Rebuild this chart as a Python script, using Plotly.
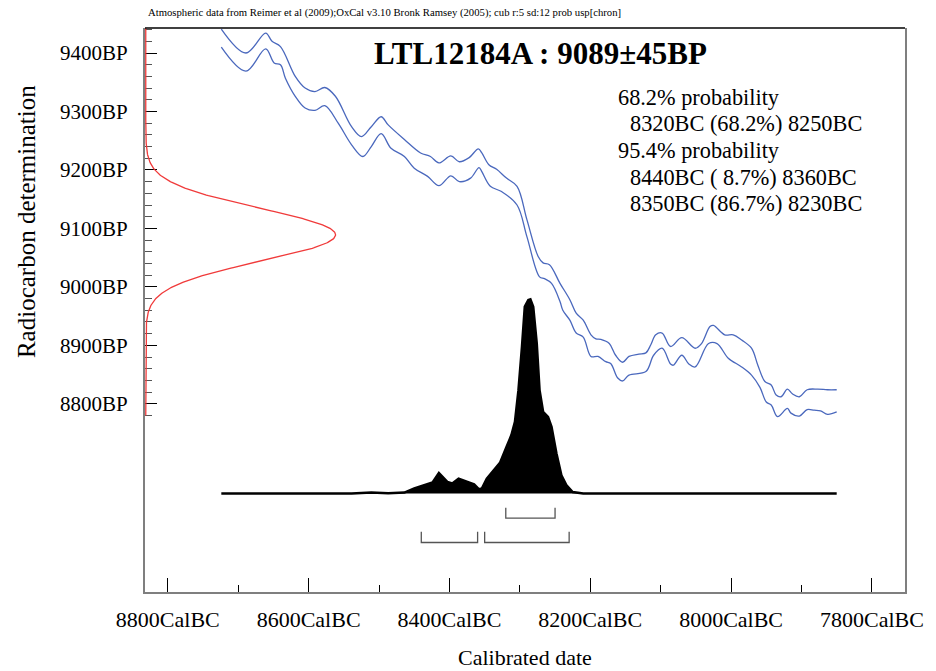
import numpy as np
import plotly.graph_objects as go

# ---- measurement -------------------------------------------------------
LAB_CODE = "LTL12184A"
C14_MEAN = 9089   # BP
C14_SD = 45       # BP
NOTE = ("Atmospheric data from Reimer et al (2009);OxCal v3.10 Bronk Ramsey (2005); "
        "cub r:5 sd:12 prob usp[chron]")

# ---- calibration curve envelope (CalBC, BP) ----------------------------
curve_upper_x = [8724, 8689, 8661, 8652, 8640, 8619, 8605, 8591, 8577, 8562,
                 8539, 8525, 8511, 8497, 8487, 8464, 8441, 8427, 8415, 8398,
                 8386, 8372, 8359, 8354, 8344, 8333, 8319, 8304, 8290, 8274,
                 8267, 8258, 8243, 8229, 8220, 8210, 8199, 8192, 8185, 8173,
                 8164, 8154, 8145, 8131, 8121, 8114, 8107, 8098, 8086, 8070,
                 8051, 8042, 8030, 8025, 8009, 7997, 7985, 7971, 7962, 7952,
                 7943, 7936, 7929, 7920, 7913, 7903, 7892, 7877, 7863, 7850]
curve_upper_bp = [9441, 9400, 9434, 9420, 9411, 9360, 9340, 9334, 9341, 9326,
                  9274, 9257, 9274, 9291, 9277, 9252, 9229, 9223, 9212, 9224,
                  9214, 9221, 9236, 9229, 9209, 9201, 9186, 9172, 9115, 9052,
                  9041, 9038, 9006, 8978, 8955, 8943, 8918, 8911, 8910, 8903,
                  8883, 8871, 8881, 8885, 8887, 8901, 8918, 8921, 8898, 8913,
                  8895, 8903, 8932, 8934, 8918, 8918, 8909, 8895, 8866, 8838,
                  8832, 8815, 8812, 8825, 8817, 8812, 8824, 8825, 8824, 8824]

curve_lower_x = [8724, 8689, 8661, 8649, 8640, 8633, 8619, 8605, 8591, 8577,
                 8558, 8539, 8523, 8511, 8497, 8483, 8464, 8450, 8431, 8415,
                 8398, 8386, 8370, 8358, 8354, 8342, 8326, 8304, 8290, 8272,
                 8265, 8255, 8243, 8239, 8229, 8220, 8210, 8199, 8189, 8178,
                 8171, 8161, 8154, 8145, 8121, 8110, 8098, 8086, 8082, 8070,
                 8060, 8051, 8032, 8020, 8004, 7985, 7971, 7959, 7950, 7943,
                 7934, 7920, 7915, 7903, 7892, 7882, 7873, 7863, 7850]
curve_lower_bp = [9410, 9369, 9407, 9383, 9380, 9357, 9326, 9306, 9302, 9310,
                  9280, 9243, 9223, 9240, 9262, 9237, 9223, 9203, 9189, 9173,
                  9190, 9180, 9186, 9204, 9197, 9172, 9163, 9140, 9086, 9017,
                  9014, 9006, 8975, 8960, 8943, 8921, 8914, 8881, 8881, 8872,
                  8869, 8844, 8839, 8849, 8855, 8883, 8895, 8868, 8866, 8883,
                  8868, 8863, 8903, 8903, 8878, 8863, 8849, 8828, 8803, 8798,
                  8778, 8792, 8784, 8779, 8790, 8789, 8788, 8782, 8786]

# ---- calibrated probability (relative to peak) -------------------------
cal_x = [8724, 8539, 8511, 8487, 8464, 8450, 8424, 8415, 8403, 8396,
         8387, 8375, 8365, 8358, 8354, 8347, 8337, 8328, 8319, 8312,
         8307, 8302, 8297, 8293, 8288, 8285, 8281, 8276, 8272, 8267,
         8260, 8255, 8248, 8241, 8234, 8225, 8210, 7850]
cal_p = [0.0, 0.0, 0.005, 0.002, 0.005, 0.026, 0.057, 0.106, 0.060, 0.052,
         0.077, 0.063, 0.048, 0.022, 0.026, 0.077, 0.120, 0.160, 0.240, 0.301,
         0.369, 0.532, 0.756, 0.962, 0.996, 1.0, 0.962, 0.773, 0.532, 0.421,
         0.395, 0.343, 0.206, 0.094, 0.043, 0.008, 0.0, 0.0]

# ---- calibrated ranges: (from, to, percent) ----------------------------
ranges_68 = [(8320, 8250, 68.2)]
ranges_95 = [(8440, 8360, 8.7), (8350, 8230, 86.7)]

# ---- axes ----------------------------------------------------------------
x_major = [8800, 8600, 8400, 8200, 8000, 7800]
x_minor = [8700, 8500, 8300, 8100, 7900]
x_labels = [f"{v}CalBC" for v in x_major]
y_major = [8800, 8900, 9000, 9100, 9200, 9300, 9400]
y_minor = [v for v in range(8780, 9441, 20) if v % 100]
y_labels = [f"{v}BP" for v in y_major]

SERIF = "Liberation Serif"
BLUE = "#4a68bd"
RED = "#f03a3a"

fig = go.Figure()

# calibration curve (two lines)
for xs, ys in ((curve_upper_x, curve_upper_bp), (curve_lower_x, curve_lower_bp)):
    fig.add_trace(go.Scatter(x=xs, y=ys, mode="lines", line=dict(color=BLUE, width=1.3),
                             line_shape="spline", xaxis="x", yaxis="y",
                             hoverinfo="skip", showlegend=False))

# radiocarbon measurement as a normal curve on the BP axis
bp = np.arange(8780, 9444, 1.0)
dens = np.exp(-0.5 * ((bp - C14_MEAN) / C14_SD) ** 2)
fig.add_trace(go.Scatter(x=dens, y=bp, mode="lines", line=dict(color=RED, width=1.3),
                         xaxis="x2", yaxis="y", hoverinfo="skip", showlegend=False))

# calibrated distribution
fig.add_trace(go.Scatter(x=cal_x, y=cal_p, mode="lines", fill="tozeroy",
                         fillcolor="black", line=dict(color="black", width=2.5),
                         line_shape="linear", xaxis="x", yaxis="y3",
                         hoverinfo="skip", showlegend=False))

# range brackets below the distribution
BRACKET_LEVELS = {"68": (-0.073, -0.127), "95": (-0.197, -0.252)}
for key, ranges in (("68", ranges_68), ("95", ranges_95)):
    top, low = BRACKET_LEVELS[key]
    for a, b, _ in ranges:
        fig.add_trace(go.Scatter(x=[a, a, b, b], y=[top, low, low, top], mode="lines",
                                 line=dict(color="#555555", width=1.3),
                                 xaxis="x", yaxis="y3", hoverinfo="skip",
                                 showlegend=False))

# ---- text ----------------------------------------------------------------
ann = []
ann.append(dict(text=NOTE, x=0.001, y=1.027, xref="paper", yref="paper",
                xanchor="left", yanchor="middle", showarrow=False,
                font=dict(family=SERIF, size=10.7, color="black")))
ann.append(dict(text=f"<b>{LAB_CODE} : {C14_MEAN}±{C14_SD}BP</b>", x=0.521, y=0.955,
                xref="paper", yref="paper", xanchor="center", yanchor="middle",
                showarrow=False, font=dict(family=SERIF, size=31, color="black")))

lines = [("68.2% probability", 0)]
lines += [(f"{a}BC ({p:4.1f}%) {b}BC".replace("( ", "(\u00a0"), 1) for a, b, p in ranges_68]
lines += [("95.4% probability", 0)]
lines += [(f"{a}BC ({p:4.1f}%) {b}BC".replace("( ", "(\u00a0"), 1) for a, b, p in ranges_95]
line_y = [0.877, 0.830, 0.783, 0.735, 0.688]
for (txt, indent), yy in zip(lines, line_y):
    ann.append(dict(text=txt, x=0.6195 + 0.0165 * indent, y=yy, xref="paper", yref="paper",
                    xanchor="left", yanchor="middle", showarrow=False,
                    font=dict(family=SERIF, size=22.3, color="black")))

ann.append(dict(text="Radiocarbon determination", x=-0.1565, y=0.656, xref="paper",
                yref="paper", xanchor="center", yanchor="middle", textangle=-90,
                showarrow=False, font=dict(family=SERIF, size=25, color="black")))
ann.append(dict(text="Calibrated date", x=0.5, y=-0.116, xref="paper", yref="paper",
                xanchor="center", yanchor="middle", showarrow=False,
                font=dict(family=SERIF, size=22, color="black")))

fig.update_layout(
    width=936, height=671,
    margin=dict(l=145, r=24, t=28, b=79),
    paper_bgcolor="white", plot_bgcolor="white",
    showlegend=False,
    annotations=ann,
    xaxis=dict(range=[8832.4, 7753], tickmode="array", tickvals=x_major,
               ticktext=x_labels, ticks="inside", ticklen=14, tickwidth=1.2,
               tickcolor="black", showline=True, linecolor="#7f7f7f", linewidth=2,
               showgrid=False, zeroline=False, ticklabelstandoff=7,
               tickfont=dict(family=SERIF, size=22, color="black"),
               minor=dict(tickvals=x_minor, ticks="inside", ticklen=7,
                          tickwidth=1.2, tickcolor="black", showgrid=False)),
    yaxis=dict(range=[8478, 9442.8], tickmode="array", tickvals=y_major,
               ticktext=y_labels, ticks="inside", ticklen=12, tickwidth=1.2,
               tickcolor="black", showline=True, linecolor="#7f7f7f", linewidth=2,
               mirror=True, showgrid=False, zeroline=False, layer="below traces",
               ticklabelstandoff=11,
               tickfont=dict(family=SERIF, size=21, color="black"),
               minor=dict(tickvals=y_minor, ticks="inside", ticklen=6.5,
                          tickwidth=1.2, tickcolor="#555555", showgrid=False)),
    xaxis2=dict(overlaying="x", anchor="y", range=[-0.004, 4.0], visible=False),
    yaxis3=dict(overlaying="y", anchor="x", range=[-0.507, 2.397], visible=False),
    shapes=[dict(type="line", xref="paper", yref="paper", x0=0, x1=1, y0=1, y1=1,
                 line=dict(color="black", width=1.5))],
)

fig.write_html("out.html")
